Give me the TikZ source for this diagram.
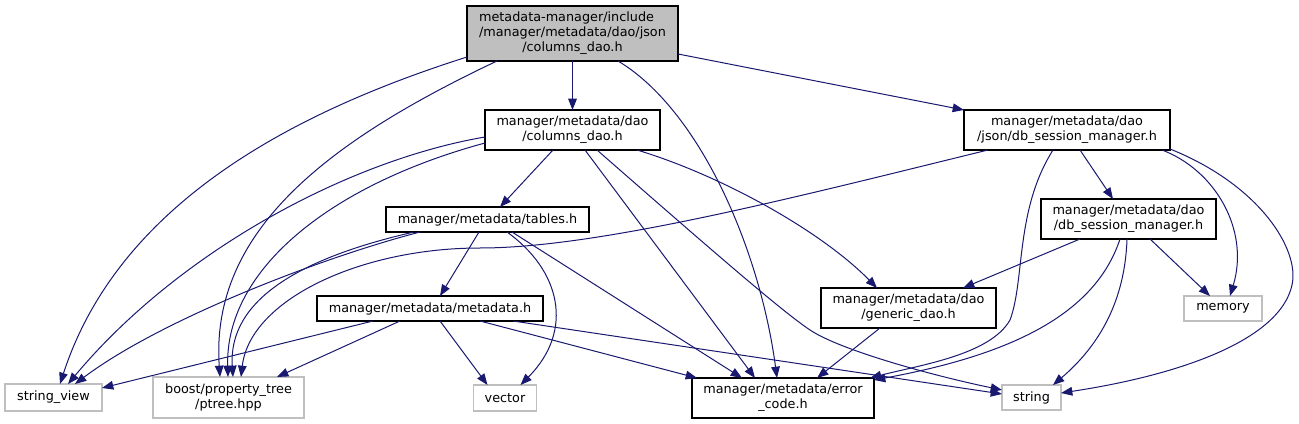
\documentclass[tikz,border=0pt]{standalone}
\usepackage{fontspec}
\setmainfont{DejaVu Sans}
\usetikzlibrary{arrows.meta,calc}
\definecolor{edgec}{HTML}{191970}
\definecolor{grayb}{HTML}{BFBFBF}
\begin{document}
\begin{tikzpicture}[x=0.75pt,y=-0.75pt,
  every node/.style={font=\fontsize{9.6}{11.25}\selectfont, inner sep=0pt, outer sep=0pt, align=center},
  inbox/.style 2 args={draw=black, line width=0.8pt, fill=white, minimum width={#1*0.75pt}, minimum height={#2*0.75pt}},
  exbox/.style 2 args={draw=grayb, line width=0.8pt, fill=white, minimum width={#1*0.75pt}, minimum height={#2*0.75pt}},
  dep/.style={draw=edgec, line width=0.75pt, -{Triangle[length=8.5pt,width=6.5pt]}}]
\useasboundingbox (0,0) rectangle (1299,424);
\fill[white] (0,0) rectangle (1299,424);

% nodes
\node[inbox={211}{55}, fill=grayb] (root) at (572.5,33.5)
  {\begin{tabular}{@{}l@{}}metadata-manager/include\\/manager/metadata/dao/json\\\multicolumn{1}{@{}c@{}}{/columns\_dao.h}\end{tabular}};
\node[inbox={175}{40}] (cdao) at (572.5,130) {manager/metadata/dao\\/columns\_dao.h};
\node[inbox={206}{40}] (jsess) at (1067,130) {manager/metadata/dao\\/json/db\_session\_manager.h};
\node[inbox={203}{25}] (tables) at (487.5,219.5) {manager/metadata/tables.h};
\node[inbox={175}{40}] (dsess) at (1128.5,219) {manager/metadata/dao\\/db\_session\_manager.h};
\node[inbox={226}{25}] (meta) at (430,308.5) {manager/metadata/metadata.h};
\node[inbox={175}{40}] (gen) at (908.5,308) {manager/metadata/dao\\/generic\_dao.h};
\node[exbox={78}{25}] (mem) at (1223,308.5) {memory};
\node[exbox={97}{27}] (sview) at (53.5,397.5) {string\_view};
\node[exbox={151}{41}] (ptree) at (228.5,397.5) {boost/property\_tree\\/ptree.hpp};
\node[exbox={63}{26}] (vec) at (505,398) {vector};
\node[inbox={182}{40}] (errc) at (783,398) {manager/metadata/error\\\_code.h};
\node[exbox={59}{25}] (str) at (1031.5,397.5) {string};

% edges from root
\draw[dep] ($(root.south west)+(0,-4)$) .. controls (300,110) and (120,200) .. ($(sview.north west)+(55,0)$);
\draw[dep] ($(root.south west)+(30,0)$) .. controls (330,140) and (210,230) .. ($(ptree.north west)+(67,0)$);
\draw[dep] (root.south) -- (cdao.north);
\draw[dep] ($(root.south west)+(151,0)$) .. controls (700,110) and (760,250) .. ($(errc.north west)+(85,0)$);
\draw[dep] ($(root.south east)+(0,-7)$) -- (jsess.north west);

% edges from columns_dao
\draw[dep] ($(cdao.south west)+(0,-13)$) .. controls (350,160) and (180,250) .. ($(sview.north west)+(63,0)$);
\draw[dep] ($(cdao.south west)+(0,-7)$) .. controls (330,185) and (225,270) .. ($(ptree.north west)+(75,0)$);
\draw[dep] ($(cdao.south west)+(68,0)$) -- ($(tables.north west)+(114,0)$);
\draw[dep] ($(cdao.south west)+(100,0)$) -- ($(errc.north west)+(63,0)$);
\draw[dep] ($(cdao.south west)+(112,0)$) .. controls (700,240) and (780,310) .. (810,330) .. controls (840,350) and (930,375) .. ($(str.north west)+(0,5)$);
\draw[dep] ($(cdao.south west)+(152,0)$) .. controls (720,175) and (820,230) .. ($(gen.north west)+(56,0)$);

% edges from json/db_session_manager
\draw[dep] ($(jsess.south west)+(24,0)$) .. controls (800,196) and (600,248) .. (480,248) .. controls (360,248) and (250,300) .. ($(ptree.north west)+(88,0)$);
\draw[dep] ($(jsess.south west)+(89,0)$) .. controls (1015,210) and (1025,280) .. (1010,320) .. controls (990,355) and (920,365) .. ($(errc.north east)+(-4,0)$);
\draw[dep] ($(jsess.south west)+(116,0)$) -- ($(dsess.north west)+(72,0)$);
\draw[dep] ($(jsess.south east)+(-8,0)$) .. controls (1215,170) and (1250,230) .. ($(mem.north west)+(46,0)$);
\draw[dep] ($(jsess.south east)+(0,-1)$) .. controls (1260,185) and (1300,250) .. (1292,285) .. controls (1280,340) and (1180,375) .. ($(str.north east)+(0,8)$);

% edges from tables
\draw[dep] ($(tables.south west)+(34,0)$) .. controls (320,258) and (160,320) .. ($(sview.north west)+(70,0)$);
\draw[dep] ($(tables.south west)+(28,0)$) .. controls (300,258) and (228,300) .. ($(ptree.north west)+(80,0)$);
\draw[dep] ($(tables.south west)+(93,0)$) -- ($(meta.north west)+(123,0)$);
\draw[dep] ($(tables.south west)+(121,0)$) .. controls (560,270) and (575,330) .. ($(vec.north west)+(47,0)$);
\draw[dep] ($(tables.south west)+(126,0)$) -- ($(errc.north west)+(50,0)$);

% edges from dao/db_session_manager
\draw[dep] ($(dsess.south west)+(39,0)$) -- ($(gen.north west)+(142,0)$);
\draw[dep] ($(dsess.south west)+(79,0)$) .. controls (1095,315) and (1010,355) .. ($(errc.north east)+(0,2)$);
\draw[dep] ($(dsess.south west)+(86,0)$) .. controls (1125,300) and (1100,345) .. ($(str.north west)+(51,0)$);
\draw[dep] ($(dsess.south west)+(109,0)$) -- ($(mem.north west)+(26,0)$);

% edges from metadata
\draw[dep] ($(meta.south west)+(56,0)$) -- ($(sview.north east)+(0,4)$);
\draw[dep] ($(meta.south west)+(83,0)$) -- ($(ptree.north west)+(124,0)$);
\draw[dep] ($(meta.south west)+(123,0)$) -- ($(vec.north west)+(14,0)$);
\draw[dep] ($(meta.south west)+(163,0)$) -- ($(errc.north west)+(5,0)$);
\draw[dep] ($(meta.south west)+(196,0)$) -- ($(str.north west)+(0,9)$);

% edge from generic_dao
\draw[dep] ($(gen.south west)+(59,0)$) -- ($(errc.north west)+(125,0)$);
\end{tikzpicture}
\end{document}
